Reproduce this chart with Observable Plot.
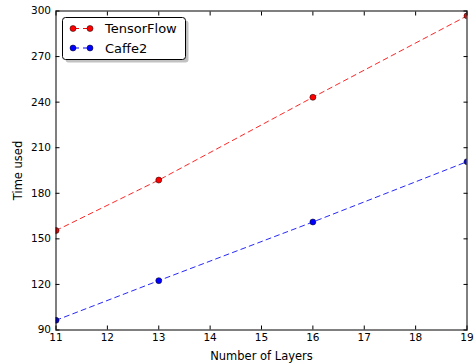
<!DOCTYPE html>
<html>
<head>
<meta charset="utf-8">
<script src="https://cdn.jsdelivr.net/npm/d3@7"></script>
<script src="https://cdn.jsdelivr.net/npm/@observablehq/plot@0.6"></script>
<style>
  html, body { margin: 0; padding: 0; background: #fff; }
  #wrap { position: relative; width: 474px; height: 364px; font-family: "DejaVu Sans", sans-serif; }
  #legend { position: absolute; left: 62px; top: 17px; }
</style>
</head>
<body>
<div id="wrap"><div id="legend"></div></div>
<script>
const layers = [11, 13, 16, 19];
const tensorflow = [155.5, 188.7, 243.2, 296.8];
const caffe2 = [96.4, 122.5, 161.1, 200.8];
const seriesNames = ["TensorFlow", "Caffe2"];
const seriesColors = ["#ff0000", "#0000ff"];
const xTicks = [11, 12, 13, 14, 15, 16, 17, 18, 19];
const yTicks = [90, 120, 150, 180, 210, 240, 270, 300];

const data = [];
layers.forEach((x, i) => {
  data.push({series: "TensorFlow", x, y: tensorflow[i]});
  data.push({series: "Caffe2", x, y: caffe2[i]});
});

const colorOf = s => seriesColors[seriesNames.indexOf(s)];

const chart = Plot.plot({
  width: 474,
  height: 364,
  marginLeft: 55.5,
  marginRight: 7.5,
  marginTop: 10.5,
  marginBottom: 34.5,
  style: {fontFamily: "DejaVu Sans, sans-serif", fontSize: "10.5px", color: "#000", background: "#fff", overflow: "visible"},
  x: {domain: [11, 19]},
  y: {domain: [90, 300]},
  marks: [
    Plot.lineY(data, {x: "x", y: "y", z: "series", stroke: d => colorOf(d.series), strokeWidth: 1, strokeDasharray: "5,4", strokeOpacity: 0.85, clip: true}),
    Plot.dot(data, {x: "x", y: "y", fill: d => colorOf(d.series), stroke: "#000", strokeWidth: 0.5, r: 3, clip: true}),
    Plot.axisX(xTicks, {anchor: "bottom", tickSize: -4, tickPadding: 8, fontSize: 10.5, label: null}),
    Plot.axisX({anchor: "bottom", ticks: [], tickSize: 0, label: "Number of Layers", labelAnchor: "center", labelArrow: "none", labelOffset: 30, fontSize: 11.5}),
    Plot.axisX(xTicks, {anchor: "top", tickSize: -4, tickFormat: () => "", label: null}),
    Plot.axisY(yTicks, {anchor: "left", tickSize: -4, tickPadding: 9, fontSize: 10.5, label: null}),
    Plot.axisY({anchor: "left", ticks: [], tickSize: 0, label: "Time used", labelAnchor: "center", labelArrow: "none", labelOffset: 42, fontSize: 11.5}),
    Plot.axisY(yTicks, {anchor: "right", tickSize: -4, tickFormat: () => "", label: null}),
    Plot.frame({stroke: "#000", strokeWidth: 1})
  ]
});
document.getElementById("wrap").prepend(chart);

// Legend (SVG overlay inside the plot area)
const lg = d3.select("#legend").append("svg").attr("width", 130).attr("height", 50);
lg.append("rect").attr("x", 3.5).attr("y", 3.5).attr("width", 123).attr("height", 42).attr("rx", 3)
  .attr("fill", "#999").attr("opacity", 0.6);
lg.append("rect").attr("x", 0.5).attr("y", 0.5).attr("width", 123).attr("height", 42).attr("rx", 3)
  .attr("fill", "#fff").attr("stroke", "#000").attr("stroke-width", 1);
seriesNames.forEach((name, i) => {
  const cy = 11.5 + i * 19.5;
  lg.append("line").attr("x1", 11).attr("x2", 28).attr("y1", cy).attr("y2", cy)
    .attr("stroke", seriesColors[i]).attr("stroke-dasharray", "4,4").attr("stroke-dashoffset", -2);
  [11, 28].forEach(cx => lg.append("circle").attr("cx", cx).attr("cy", cy).attr("r", 3)
    .attr("fill", seriesColors[i]).attr("stroke", "#000").attr("stroke-width", 0.5));
  lg.append("text").attr("x", 43).attr("y", cy).attr("dy", "0.36em")
    .attr("font-family", "DejaVu Sans, sans-serif").attr("font-size", 13).attr("fill", "#000").text(name);
});
</script>
</body>
</html>
